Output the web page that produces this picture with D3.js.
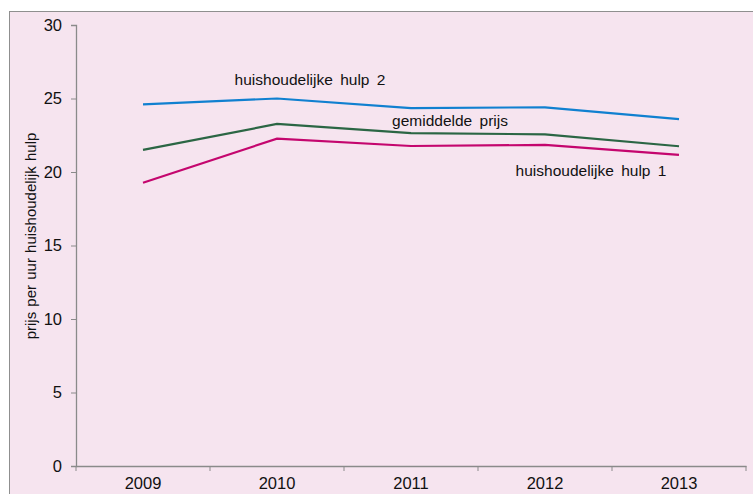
<!DOCTYPE html>
<html><head><meta charset="utf-8">
<script src="https://cdn.jsdelivr.net/npm/d3@7"></script>
<style>
body{margin:0;background:#fff;}
text{font-family:"Liberation Sans",Arial,sans-serif;fill:#111;}
</style></head>
<body>
<svg id="c" width="753" height="494"></svg>
<script>
const years = ["2009","2010","2011","2012","2013"];
const hulp2 = [24.6, 25.0, 24.35, 24.4, 23.6];
const gemiddeld = [21.5, 23.27, 22.65, 22.56, 21.75];
const hulp1 = [19.27, 22.27, 21.77, 21.84, 21.16];
const yTicks = [0, 5, 10, 15, 20, 25, 30];
const seriesNames = ["huishoudelijke hulp 2", "gemiddelde prijs", "huishoudelijke hulp 1"];
const yTitle = "prijs per uur huishoudelijk hulp";

(function(){
const TFS = 16.5, LFS = 15.5, FS = 15;
const svg = d3.select("#c");
svg.append("rect").attr("x",9.5).attr("y",11.5).attr("width",760).attr("height",500)
  .attr("fill","#f6e4ef").attr("stroke","#8f8f8f").attr("stroke-width",1);

const pL = 76, pR = 746, pT = 25, pB = 466;
const x = d3.scaleBand().domain(years).range([pL, pR]);
const y = d3.scaleLinear().domain([0,30]).range([pB, pT]);

const yAx = svg.append("g").attr("transform",`translate(${pL},0)`)
  .call(d3.axisLeft(y).tickValues(yTicks).tickSize(5).tickPadding(9));
const xAx = svg.append("g").attr("transform",`translate(0,${pB})`)
  .call(d3.axisBottom(x).tickSize(0).tickPadding(11));
[yAx,xAx].forEach(g=>{
  g.attr("font-family",null).attr("font-size",null);
  g.select(".domain").attr("stroke","#8a8a8a").attr("stroke-width",1.3);
  g.selectAll(".tick line").attr("stroke","#8a8a8a");
  g.selectAll("text").attr("font-size",TFS).attr("fill","#111");
});
const bounds = years.map(d=>x(d)).concat([pR]);
svg.append("g").selectAll("line").data(bounds).join("line")
  .attr("x1",d=>d).attr("x2",d=>d).attr("y1",pB).attr("y2",pB+5)
  .attr("stroke","#8a8a8a");

const line = d3.line().x((d,i)=>x(years[i])+x.bandwidth()/2).y(d=>y(d));
const data = [[hulp2,"#1080d0"],[gemiddeld,"#2b6644"],[hulp1,"#c4066e"]];
data.forEach(([v,c])=>{
  svg.append("path").datum(v).attr("d",line).attr("fill","none")
    .attr("stroke",c).attr("stroke-width",2.2);
});

const labels = [
  {t:seriesNames[0], x:310, y:85},
  {t:seriesNames[1], x:450, y:126},
  {t:seriesNames[2], x:591, y:176}
];
svg.selectAll(".lbl").data(labels).join("text").attr("class","lbl")
  .attr("x",d=>d.x).attr("y",d=>d.y).attr("text-anchor","middle")
  .attr("font-size",LFS).style("word-spacing","3px").text(d=>d.t);

svg.append("text").attr("transform","translate(36,236) rotate(-90)")
  .attr("text-anchor","middle").attr("font-size",FS).style("word-spacing","1px").text(yTitle);
})();
</script>
</body></html>
